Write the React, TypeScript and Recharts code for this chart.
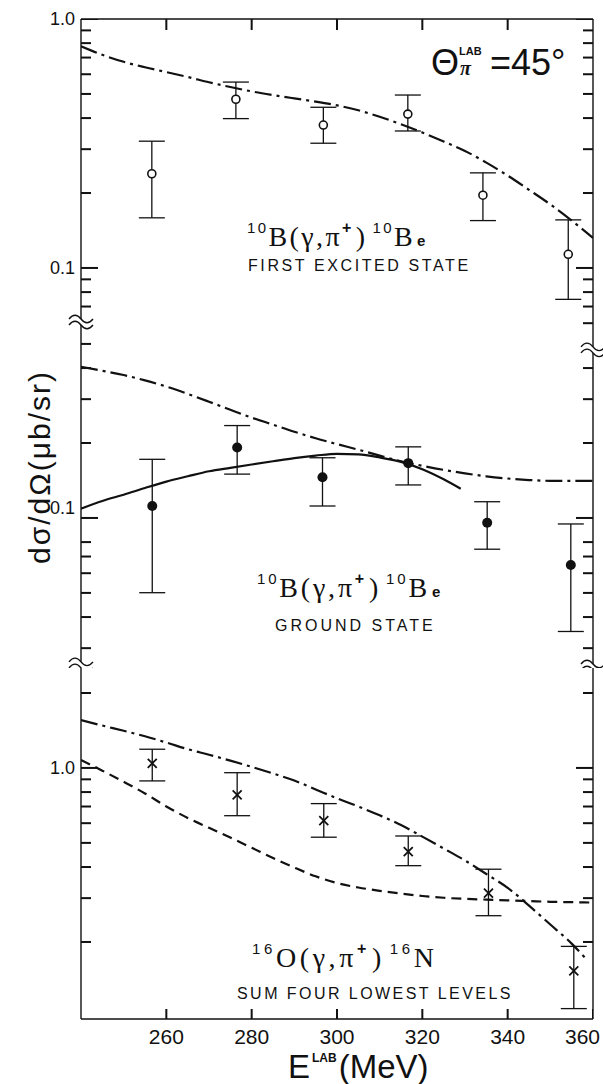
import React from 'react'
import {
  ComposedChart,
  Line,
  Scatter,
  ErrorBar,
  XAxis,
  YAxis,
  ReferenceDot,
} from 'recharts'

// photon energy E (MeV) and d sigma / d Omega (ub/sr)

// 10B(g,pi+)10Be first excited state
const excitedE = [256.6, 276.3, 296.8, 316.6, 334.2, 354.2]
const excitedVal = [0.239, 0.476, 0.375, 0.415, 0.196, 0.1135]
const excitedHi = [0.323, 0.558, 0.442, 0.495, 0.241, 0.156]
const excitedLo = [0.159, 0.398, 0.317, 0.355, 0.155, 0.0748]

// 10B(g,pi+)10Be ground state
const groundE = [256.7, 276.6, 296.6, 316.7, 335.2, 354.8]
const groundVal = [0.1117, 0.192, 0.1457, 0.166, 0.0957, 0.0647]
const groundHi = [0.172, 0.235, 0.1745, 0.193, 0.1162, 0.0946]
const groundLo = [0.0501, 0.15, 0.1117, 0.1357, 0.0749, 0.035]

// 16O(g,pi+)16N sum of four lowest levels
const oxygenE = [256.7, 276.6, 296.9, 316.7, 335.5, 355.5]
const oxygenVal = [1.044, 0.779, 0.614, 0.461, 0.314, 0.153]
const oxygenHi = [1.189, 0.957, 0.719, 0.533, 0.392, 0.192]
const oxygenLo = [0.887, 0.643, 0.527, 0.405, 0.255, 0.108]

// calculated curves
const curveE = [
  240, 245, 250, 255, 260, 265, 270, 275, 280, 285, 290, 295, 300, 305, 310, 315, 320,
  325, 330, 335, 340, 345, 350, 355, 360,
]
const excitedCalc = [
  0.777, 0.718, 0.673, 0.64, 0.612, 0.585, 0.557, 0.533, 0.512, 0.495, 0.48, 0.466, 0.45,
  0.43, 0.405, 0.378, 0.35, 0.322, 0.295, 0.265, 0.235, 0.206, 0.18, 0.155, 0.132,
]
const groundCalc = [
  0.405, 0.39, 0.375, 0.357, 0.337, 0.315, 0.293, 0.272, 0.253, 0.237, 0.222, 0.209, 0.198,
  0.188, 0.178, 0.169, 0.162, 0.156, 0.151, 0.147, 0.144, 0.142, 0.141, 0.141, 0.141,
]
const groundFitE = [
  240, 245, 250, 255, 260, 265, 270, 275, 280, 285, 290, 295, 300, 305, 310, 315, 320, 325,
  329,
]
const groundFit = [
  0.109, 0.117, 0.124, 0.132, 0.14, 0.147, 0.154, 0.159, 0.164, 0.169, 0.174, 0.178, 0.181,
  0.18, 0.175, 0.168, 0.157, 0.143, 0.131,
]
const oxygenCalcE = [
  240, 245, 250, 255, 260, 265, 270, 275, 280, 285, 290, 295, 300, 305, 310, 315, 320, 325,
  330, 335, 340, 345, 350, 355, 358.5,
]
const oxygenCalc = [
  1.557, 1.48, 1.41, 1.34, 1.265, 1.19, 1.13, 1.07, 1.01, 0.95, 0.89, 0.82, 0.755, 0.7,
  0.645, 0.59, 0.53, 0.475, 0.425, 0.375, 0.33, 0.28, 0.235, 0.197, 0.17,
]
const oxygenAltCalc = [
  1.077, 0.975, 0.88, 0.79, 0.7, 0.63, 0.575, 0.525, 0.478, 0.435, 0.398, 0.367, 0.345,
  0.331, 0.321, 0.313, 0.306, 0.301, 0.298, 0.296, 0.294, 0.292, 0.29, 0.289, 0.288,
]

// ticks
const xTicks = [260, 280, 300, 320, 340, 360]
const xTopTicks = [260, 280, 300, 320, 340]
const xTickLabels = ['260', '280', '300', '320', '340', '360']
const majorTicks = [1, 0.1]
const majorLabels = ['1.0', '0.1']
const excitedTicksL = [1, 0.9, 0.8, 0.7, 0.6, 0.5, 0.4, 0.3, 0.2, 0.1, 0.09, 0.08, 0.07]
const excitedTicksR = [1, 0.9, 0.8, 0.7, 0.6, 0.5, 0.4, 0.3, 0.2, 0.1, 0.09, 0.08, 0.07, 0.06]
const groundTicksL = [0.5, 0.4, 0.3, 0.2, 0.1, 0.08, 0.07, 0.06, 0.05, 0.04, 0.03]
const groundTicksR = [0.4, 0.3, 0.2, 0.1, 0.08, 0.07, 0.06, 0.05, 0.04, 0.03]
const oxygenTicks = [2, 1, 0.9, 0.8, 0.7, 0.6, 0.5, 0.4, 0.3, 0.2]

const X_MIN = 240
const X_MAX = 360

const ink = '#111'
const sans = "'Liberation Sans', Arial, sans-serif"
const serif = "'Liberation Serif', 'DejaVu Serif', serif"
const dashDot = '17 5 3 5'

const points = (e: number[], v: number[], lo: number[], hi: number[]) =>
  e.map((x, i) => ({ e: x, v: v[i], err: [v[i] - lo[i], hi[i] - v[i]] }))
const curve = (e: number[], v: number[]) => e.map((x, i) => ({ e: x, v: v[i] }))

const majorIndex = (v: number) => majorTicks.findIndex((m) => Math.abs(m - v) < 1e-9)

// axis labels; the tick marks are drawn by a scatter so they can point inward
const leftLabel = (labelShift: number) => (props: any) => {
  const idx = majorIndex(props.payload.value)
  if (idx < 0) return <g />
  return (
    <text
      x={Number(props.x) - 6}
      y={Number(props.y) + labelShift}
      textAnchor="end"
      dominantBaseline="central"
      fontFamily={sans}
      fontSize={18}
      fill={ink}
    >
      {majorLabels[idx]}
    </text>
  )
}

const bottomLabel = (props: any) => {
  const x = Number(props.x)
  const i = xTicks.indexOf(props.payload.value)
  const last = i === xTicks.length - 1
  return (
    <text
      x={last ? x + 7 : x}
      y={Number(props.y) + 25}
      textAnchor={last ? 'end' : 'middle'}
      fontFamily={sans}
      fontSize={21}
      fill={ink}
    >
      {xTickLabels[i]}
    </text>
  )
}

// shape for one inward tick; the row tells which side it sits on
const tickMark = (p: any) => {
  const cx = Number(p.cx)
  const cy = Number(p.cy)
  const row = p.payload || p
  const side = row.side as string
  const len = row.major ? 17 : 10
  if (side === 'l') return <rect x={cx} y={cy - 1} width={len} height={2} fill={ink} />
  if (side === 'r') return <rect x={cx - len} y={cy - 1} width={len} height={2} fill={ink} />
  if (side === 't') return <rect x={cx - 1} y={cy} width={2} height={11} fill={ink} />
  return <rect x={cx - 1} y={cy - 10} width={2} height={10} fill={ink} />
}

const openDot = (p: any) => (
  <circle cx={p.cx} cy={p.cy} r={4} fill="#fff" stroke={ink} strokeWidth={1.6} />
)
const fullDot = (p: any) => <circle cx={p.cx} cy={p.cy} r={5} fill={ink} />
const cross = (p: any) => (
  <path
    d={`M${p.cx - 4.5},${p.cy - 4.5}L${p.cx + 4.5},${p.cy + 4.5}M${p.cx + 4.5},${p.cy - 4.5}L${p.cx - 4.5},${p.cy + 4.5}`}
    stroke={ink}
    strokeWidth={1.8}
  />
)

const axisBreak = (p: any) => {
  const { cx, cy } = p
  const wave = (dy: number) => `M${cx - 12},${cy + dy} c4,-5 8,-5 12,0 s8,5 12,0`
  return (
    <g>
      <rect x={cx - 3} y={cy - 3} width={6} height={6} fill="#fff" />
      <path d={wave(-3)} fill="none" stroke={ink} strokeWidth={1.4} />
      <path d={wave(3)} fill="none" stroke={ink} strokeWidth={1.4} />
    </g>
  )
}

const axisLine = { stroke: ink, strokeWidth: 1.4 }

interface PanelProps {
  top: number
  height: number
  domain: [number, number]
  ticksL: number[]
  ticksR: number[]
  xMode: 'top' | 'bottom' | 'none'
  labelShift?: number
  children: React.ReactNode
}

function Panel({ top, height, domain, ticksL, ticksR, xMode, labelShift = 0, children }: PanelProps) {
  const tickRows = [
    ...ticksL.map((v) => ({ e: X_MIN, v, side: 'l', major: majorIndex(v) >= 0 })),
    ...ticksR.map((v) => ({ e: X_MAX, v, side: 'r', major: majorIndex(v) >= 0 })),
    ...(xMode === 'top' ? xTopTicks : []).map((x) => ({ e: x, v: domain[1], side: 't', major: false })),
    ...(xMode === 'bottom' ? xTicks : []).map((x) => ({ e: x, v: domain[0], side: 'b', major: false })),
  ]
  return (
    <div style={{ position: 'absolute', left: 0, top }}>
      <ComposedChart width={603} height={height} margin={{ top: 0, right: 0, bottom: 0, left: 0 }}>
        {xMode === 'top' && (
          <XAxis
            type="number"
            dataKey="e"
            domain={[X_MIN, X_MAX]}
            allowDataOverflow
            orientation="top"
            height={19}
            ticks={xTopTicks}
            tick={false}
            tickLine={false}
            axisLine={axisLine}
          />
        )}
        {xMode === 'bottom' && (
          <XAxis
            type="number"
            dataKey="e"
            domain={[X_MIN, X_MAX]}
            allowDataOverflow
            orientation="bottom"
            height={65}
            ticks={xTicks}
            interval={0}
            tickSize={0}
            tickMargin={0}
            tickLine={false}
            axisLine={axisLine}
            tick={bottomLabel}
          />
        )}
        {xMode === 'none' && (
          <XAxis type="number" dataKey="e" domain={[X_MIN, X_MAX]} allowDataOverflow hide />
        )}
        <YAxis
          yAxisId="l"
          type="number"
          scale="log"
          domain={domain}
          allowDataOverflow
          width={81}
          ticks={ticksL}
          interval={0}
          tickSize={0}
          tickMargin={0}
          tickLine={false}
          axisLine={axisLine}
          tick={leftLabel(labelShift)}
        />
        <YAxis
          yAxisId="r"
          orientation="right"
          type="number"
          scale="log"
          domain={domain}
          allowDataOverflow
          width={10}
          ticks={ticksR}
          tick={false}
          tickLine={false}
          axisLine={axisLine}
        />
        <Scatter
          yAxisId="l"
          data={tickRows}
          dataKey="v"
          shape={tickMark}
          isAnimationActive={false}
        />
        {children}
      </ComposedChart>
    </div>
  )
}

function Reaction({ x, y, a, target, product, suffix, spacing }: { x: number; y: number; a: string; target: string; product: string; suffix?: string; spacing: number }) {
  return (
    <text x={x} y={y} fontFamily={serif} fontSize={28} fill={ink} letterSpacing={spacing}>
      <tspan fontFamily={sans} fontSize={15} dy={-13}>{a}</tspan>
      <tspan dy={13}>{target}(γ,π</tspan>
      <tspan fontFamily={sans} fontWeight="bold" fontSize={16} dy={-13}>+</tspan>
      <tspan dy={13} dx={2}>)</tspan>
      <tspan fontFamily={sans} fontSize={15} dy={-13} dx={5}>{a}</tspan>
      <tspan dy={13}>{product}</tspan>
      {suffix && (
        <tspan fontFamily={sans} fontWeight="bold" fontSize={15} dx={2}>{suffix}</tspan>
      )}
    </text>
  )
}

export default function App() {
  return (
    <div style={{ position: 'absolute', left: 0, top: 0, width: 603, height: 1084, background: '#fff' }}>
      <Panel top={0} height={336} domain={[0.0533, 1]} ticksL={excitedTicksL} ticksR={excitedTicksR} xMode="top">
        <Line
          yAxisId="l"
          data={curve(curveE, excitedCalc)}
          dataKey="v"
          type="monotone"
          stroke={ink}
          strokeWidth={2.2}
          strokeDasharray={dashDot}
          dot={false}
          isAnimationActive={false}
        />
        <Scatter
          yAxisId="l"
          data={points(excitedE, excitedVal, excitedLo, excitedHi)}
          dataKey="v"
          shape={openDot}
          isAnimationActive={false}
        >
          <ErrorBar dataKey="err" direction="y" width={13} stroke={ink} strokeWidth={1.3} />
        </Scatter>
        <ReferenceDot yAxisId="l" x={X_MIN} y={0.0607} ifOverflow="visible" shape={axisBreak} />
      </Panel>

      <Panel top={336} height={332} domain={[0.02497, 0.538]} ticksL={groundTicksL} ticksR={groundTicksR} xMode="none" labelShift={-10}>
        <Line
          yAxisId="l"
          data={curve(curveE, groundCalc)}
          dataKey="v"
          type="monotone"
          stroke={ink}
          strokeWidth={2.2}
          strokeDasharray={dashDot}
          dot={false}
          isAnimationActive={false}
        />
        <Line
          yAxisId="l"
          data={curve(groundFitE, groundFit)}
          dataKey="v"
          type="monotone"
          stroke={ink}
          strokeWidth={2.2}
          dot={false}
          isAnimationActive={false}
        />
        <Scatter
          yAxisId="l"
          data={points(groundE, groundVal, groundLo, groundHi)}
          dataKey="v"
          shape={fullDot}
          isAnimationActive={false}
        >
          <ErrorBar dataKey="err" direction="y" width={13} stroke={ink} strokeWidth={1.3} />
        </Scatter>
        <ReferenceDot yAxisId="l" x={X_MAX} y={0.473} ifOverflow="visible" shape={axisBreak} />
        <ReferenceDot yAxisId="l" x={X_MIN} y={0.0257} ifOverflow="visible" shape={axisBreak} />
        <ReferenceDot yAxisId="l" x={X_MAX} y={0.0252} ifOverflow="visible" shape={axisBreak} />
      </Panel>

      <Panel top={668} height={416} domain={[0.0981, 2.52]} ticksL={oxygenTicks} ticksR={oxygenTicks} xMode="bottom">
        <Line
          yAxisId="l"
          data={curve(oxygenCalcE, oxygenCalc)}
          dataKey="v"
          type="monotone"
          stroke={ink}
          strokeWidth={2.2}
          strokeDasharray={dashDot}
          dot={false}
          isAnimationActive={false}
        />
        <Line
          yAxisId="l"
          data={curve(curveE, oxygenAltCalc)}
          dataKey="v"
          type="monotone"
          stroke={ink}
          strokeWidth={2.2}
          strokeDasharray="10 6"
          dot={false}
          isAnimationActive={false}
        />
        <Scatter
          yAxisId="l"
          data={points(oxygenE, oxygenVal, oxygenLo, oxygenHi)}
          dataKey="v"
          shape={cross}
          isAnimationActive={false}
        >
          <ErrorBar dataKey="err" direction="y" width={13} stroke={ink} strokeWidth={1.3} />
        </Scatter>
      </Panel>

      <svg
        width={603}
        height={1084}
        style={{ position: 'absolute', left: 0, top: 0, pointerEvents: 'none' }}
      >
        {/* angle annotation */}
        <text x={431} y={75} fontFamily={sans} fontSize={36} fill={ink}>Θ</text>
        <text x={459} y={55} fontFamily={sans} fontSize={11} fontWeight="bold" fill={ink}>LAB</text>
        <text x={460} y={75} fontFamily={serif} fontSize={20} fontWeight="bold" fontStyle="italic" fill={ink}>π</text>
        <text x={490} y={75} fontFamily={sans} fontSize={36} fill={ink}>=45°</text>

        <Reaction x={247} y={246} a="10" target="B" product="B" suffix="e" spacing={2.4} />
        <text x={248} y={271} fontFamily={sans} fontSize={16} letterSpacing={2.6} fill={ink}>
          FIRST EXCITED STATE
        </text>

        <Reaction x={257} y={597} a="10" target="B" product="B" suffix="e" spacing={2.8} />
        <text x={275} y={631} fontFamily={sans} fontSize={16} letterSpacing={3} fill={ink}>
          GROUND STATE
        </text>

        <Reaction x={252} y={967} a="16" target="O" product="N" spacing={3.6} />
        <text x={237} y={999} fontFamily={sans} fontSize={16} letterSpacing={2.45} fill={ink}>
          SUM FOUR LOWEST LEVELS
        </text>

        {/* axis titles */}
        <text
          x={50}
          y={467}
          transform="rotate(-90 50 467)"
          textAnchor="middle"
          fontFamily={sans}
          fontSize={30}
          letterSpacing={2}
          fill={ink}
        >
          dσ/dΩ(μb/sr)
        </text>
        <text x={288} y={1078} fontFamily={sans} fontSize={33} fill={ink}>
          E
          <tspan fontSize={12} fontWeight="bold" dy={-16} dx={2}>LAB</tspan>
          <tspan dy={16} dx={2}>(MeV)</tspan>
        </text>
      </svg>
    </div>
  )
}
